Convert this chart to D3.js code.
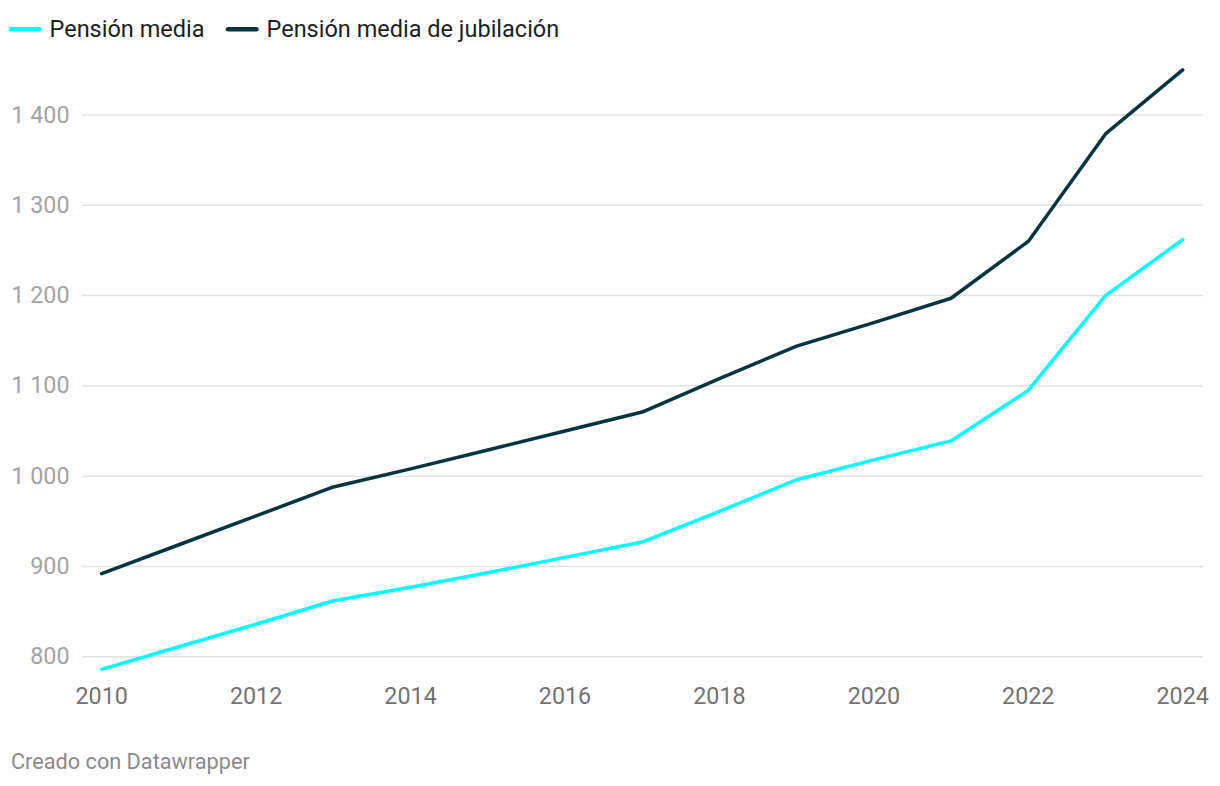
<!DOCTYPE html>
<html>
<head>
<meta charset="utf-8">
<script src="https://cdn.jsdelivr.net/npm/d3@7"></script>
<style>
  html, body { margin: 0; padding: 0; background: #fff; }
  svg { display: block; font-family: Roboto, "Noto Sans", sans-serif; }
</style>
</head>
<body>
<svg id="chart" width="1220" height="786"></svg>
<script>
const years = [2010, 2011, 2012, 2013, 2014, 2015, 2016, 2017, 2018, 2019, 2020, 2021, 2022, 2023, 2024];
const pensionMedia = [786, 811, 836, 862, 877, 893, 910, 927, 961, 996, 1018, 1039, 1095, 1200, 1262];
const pensionJubilacion = [892, 924, 956, 988, 1008, 1029, 1050, 1071, 1108, 1144, 1170, 1197, 1260, 1379, 1450];
const yTicks = [800, 900, 1000, 1100, 1200, 1300, 1400];
const xTicks = [2010, 2012, 2014, 2016, 2018, 2020, 2022, 2024];
const seriesNames = ["Pensión media", "Pensión media de jubilación"];
const seriesColors = ["#00ffff", "#06343f"];

const svg = d3.select("#chart");
const x = d3.scaleLinear().domain([2010, 2024]).range([101.7, 1182.7]);
const y = d3.scaleLinear().domain([800, 1400]).range([656.7, 115]);

const fmt = v => d3.format(",")(v).replace(/,/g, " ");

// gridlines
svg.append("g").selectAll("line").data(yTicks).join("line")
  .attr("x1", 82).attr("x2", 1203)
  .attr("y1", d => y(d)).attr("y2", d => y(d))
  .attr("stroke", "#e3e3e3").attr("stroke-width", 1.5);

// y labels
svg.append("g").selectAll("text").data(yTicks).join("text")
  .attr("x", 69.5).attr("y", d => y(d) + 7.5)
  .attr("text-anchor", "end")
  .attr("font-size", 23.3).attr("fill", "#a3a3a3")
  .text(d => fmt(d));

// x labels
svg.append("g").selectAll("text").data(xTicks).join("text")
  .attr("x", d => x(d)).attr("y", 704)
  .attr("text-anchor", "middle")
  .attr("font-size", 23.3).attr("fill", "#727272")
  .text(d => d);

// lines
const line = d3.line().x((d, i) => x(years[i])).y(d => y(d));
[pensionMedia, pensionJubilacion].forEach((vals, k) => {
  svg.append("path").datum(vals)
    .attr("d", line)
    .attr("fill", "none")
    .attr("stroke", seriesColors[k])
    .attr("stroke-width", 3.5)
    .attr("stroke-linejoin", "round")
    .attr("stroke-linecap", "round");
});

// legend
const legendX = [11, 228];
seriesNames.forEach((name, k) => {
  const g = svg.append("g");
  g.append("line")
    .attr("x1", legendX[k]).attr("x2", legendX[k] + 28.5)
    .attr("y1", 29.3).attr("y2", 29.3)
    .attr("stroke", seriesColors[k]).attr("stroke-width", 4.5)
    .attr("stroke-linecap", "round");
  g.append("text")
    .attr("x", legendX[k] + 38.5).attr("y", 37)
    .attr("font-size", 23.5).attr("fill", "#1e1e1e")
    .text(name);
});

// footer
svg.append("text")
  .attr("x", 11).attr("y", 769)
  .attr("font-size", 21.7).attr("fill", "#8a8a8a")
  .text("Creado con Datawrapper");
</script>
</body>
</html>
